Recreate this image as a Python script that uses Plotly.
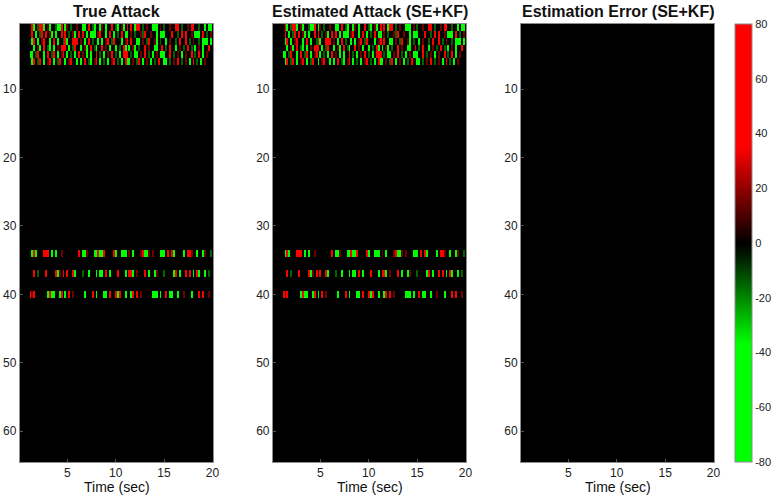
import plotly.graph_objects as go

# ---- data -----------------------------------------------------------------
N_ROWS = 64
N_COLS = 100
time_sec = [round(0.2 * (i + 1), 1) for i in range(N_COLS)]
sensor_rows = list(range(1, N_ROWS + 1))

# cell codes: '.' no attack, R strong +, r weak +, G strong -, g weak -
LEVEL = {".": 0, "R": 60, "r": 15, "G": -60, "g": -15}

attacked_rows = [1, 2, 3, 4, 5, 6, 34, 37, 40]
attack_patterns = [
    "......RG.gRRG.rG..gGGR.Gr.g..r..GG.R.gG..Gr.G..R.gG.rG.R.R.GRR.g.r..GGG.r.g..r..RR.g..r.RR..g..G.GG.",
    "......R.G.gR.R.rG.G..R.R.g.rG.R.R.G.GGG.rR..G.R.G.g.R.GG.r.g..rgR..r..G.GGG...R..g.R.R..r.GGG.R.g.r.",
    "......GR.G.rR..G.R.G..gRG..RRR.r.G.R.g..G.G.rR.gR...G.rR.R..GG.r.gR..rG.g..G.r..g.R..R.g.r..g.GGG.G.",
    ".......G.rG.R.gG.G.r.RRR.G.gR..G.rG.R.gG..R.r.G..G.g.RG.G.rG.g..R.r..GG..R.g.R..G.r.g.R.g.G.r.G..R..",
    ".....GG.gR..G.R.gR.G.rR.G.g.G.R.r.G.G..R.g.G.r.R.g.G.RRR.g.GG.r.R.g.G.r.GGG..R.g.r.G.r..R.g.R.G.r...",
    "......GR.gR.G.rR.G.gR..G.rR..G.G.R.gG.rR.G.g.G.rR.g.G.RGG.r.gR.G.r.G.g.R..GG.g.r.R.g.r.G.R.g.G.r...",
    "......GRG...RRR.G.G..r........R.GGr...GGRGGR....RG..GGG.r.G...rRGGr.r...GGG.R.RG....G.RRr..G..Gr..g.",
    ".......R.g...R....RGr.R.R..RG...g..G...G.GG.R.G...R...G.RRG.r...R.G..Gr...g....GR.G..R.R.G.RG..G.g..",
    ".....RrR......GRGG..GR.G.R.r.....G...R.G...GG.R..RGR..G..GR.R.r.....GGG.G..R.GG..G..r...G...R.R..r..",
]

panel_titles = ["True Attack", "Estimated Attack (SE+KF)", "Estimation Error (SE+KF)"]
x_title = "Time (sec)"
x_ticks = [5, 10, 15, 20]
y_ticks = [10, 20, 30, 40, 50, 60]
cbar_ticks = [-80, -60, -40, -20, 0, 20, 40, 60, 80]
cbar_labels = ["-80", "-60", "-40", "-20", "0", "20", "40", "60", "80"]

# ---- build matrices -------------------------------------------------------
def blank():
    return [[0.0] * N_COLS for _ in range(N_ROWS)]

true_attack = blank()
for r, pat in zip(attacked_rows, attack_patterns):
    pat = (pat + "." * N_COLS)[:N_COLS]
    true_attack[r - 1] = [float(LEVEL[c]) for c in pat]

est_attack = [row[:] for row in true_attack]
est_error = [[t - e for t, e in zip(tr, er)] for tr, er in zip(true_attack, est_attack)]
mats = [true_attack, est_attack, est_error]

# ---- figure ---------------------------------------------------------------
W, H = 782, 495
x_px = [(20, 215), (275, 470), (525, 720)]
y_top, y_bot = 24, 462
ydom = [(H - y_bot) / H, (H - y_top) / H]

colorscale = [
    [0.0, "#00ff00"], [0.27, "#00ff00"], [0.47, "#001a00"], [0.5, "#000000"],
    [0.52, "#1a0000"], [0.72, "#ff0000"], [1.0, "#ff0000"],
]

fig = go.Figure()
FONT = "Liberation Sans, Arial, sans-serif"
for k, z in enumerate(mats):
    xa = "x" if k == 0 else f"x{k+1}"
    ya = "y" if k == 0 else f"y{k+1}"
    fig.add_trace(go.Heatmap(z=z, x=time_sec, y=sensor_rows, coloraxis="coloraxis",
                             xaxis=xa, yaxis=ya, zsmooth=False, hoverongaps=False))
    axis_common = dict(showline=True, linecolor="#8c8c8c", linewidth=1, mirror=True,
                       ticks="inside", ticklen=3, tickcolor="#555555", showgrid=False,
                       zeroline=False, tickfont=dict(size=12, color="#222", family=FONT))
    fig.update_layout(**{
        ("xaxis" if k == 0 else f"xaxis{k+1}"): dict(
            domain=[x_px[k][0] / W, x_px[k][1] / W], anchor=ya, range=[0.1, 20.1],
            tickvals=x_ticks, ticklabelstandoff=0, **axis_common),
        ("yaxis" if k == 0 else f"yaxis{k+1}"): dict(
            domain=ydom, anchor=xa, range=[64.5, 0.5], tickvals=y_ticks, **axis_common),
    })
    cx = (x_px[k][0] + x_px[k][1]) / 2 / W
    fig.add_annotation(text=f"<b>{panel_titles[k]}</b>", xref="paper", yref="paper",
                       x=cx, y=(H - 11) / H, xanchor="center", yanchor="middle",
                       showarrow=False, font=dict(size=16, color="#111", family=FONT))
    fig.add_annotation(text=x_title, xref="paper", yref="paper",
                       x=cx, y=(H - 487) / H, xanchor="center", yanchor="middle",
                       showarrow=False, font=dict(size=14, color="#111", family=FONT))

fig.update_layout(
    width=W, height=H, margin=dict(l=0, r=0, t=0, b=0),
    paper_bgcolor="white", plot_bgcolor="black", showlegend=False,
    coloraxis=dict(colorscale=colorscale, cmin=-80, cmax=80,
                   colorbar=dict(x=741 / W, xanchor="left", y=(ydom[0] + ydom[1]) / 2,
                                 yanchor="middle", len=(y_bot - y_top) / H,
                                 thickness=17, thicknessmode="pixels",
                                 outlinecolor="#8c8c8c", outlinewidth=1,
                                 tickvals=cbar_ticks, ticktext=cbar_labels,
                                 ticks="", xpad=0, ypad=0,
                                 tickfont=dict(size=11, color="#222", family=FONT))),
)

fig.write_html("out.html", config={"displayModeBar": False},
               post_script="document.body.style.margin='0';")
